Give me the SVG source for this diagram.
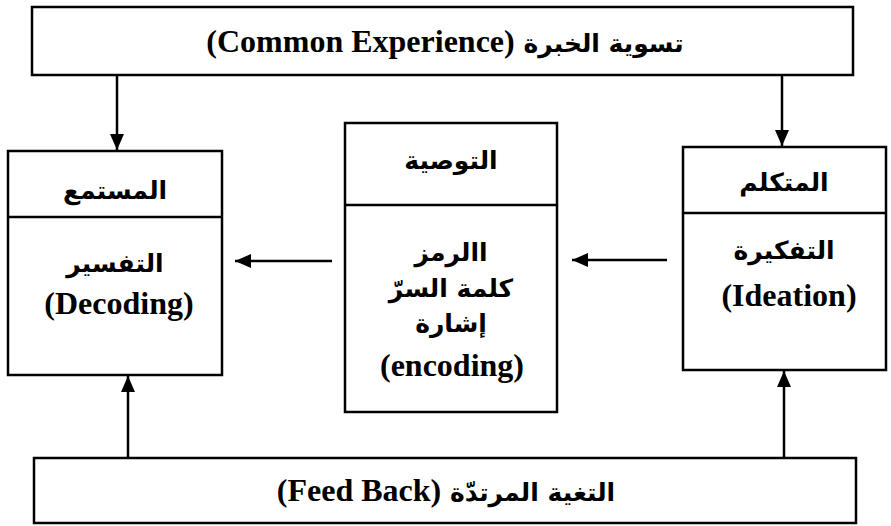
<svg xmlns="http://www.w3.org/2000/svg" width="891" height="526" viewBox="0 0 891 526">
<style>
.box{fill:#fff;stroke:#000;stroke-width:2.5}
.div{stroke:#000;stroke-width:2.5}
.t{font-family:"Liberation Serif","DejaVu Sans",serif;font-weight:bold;font-size:32px;text-anchor:middle;fill:#000}
.ar{font-family:"DejaVu Sans","Liberation Serif",sans-serif;font-weight:bold;font-size:25px;text-anchor:middle;fill:#000}
.con line{stroke:#000;stroke-width:2.5;marker-end:url(#ah)}
</style>
<defs>
<marker id="ah" markerUnits="userSpaceOnUse" markerWidth="18" markerHeight="16" refX="16" refY="7" orient="auto">
<path d="M0,0 L16,7 L0,14 Z" fill="#000"/>
</marker>
</defs>
<rect width="891" height="526" fill="#fff"/>
<g id="common-experience">
<rect class="box" x="32" y="7" width="821" height="68"/>
<text class="t" x="445" y="52" font-size="29"><tspan>(Common Experience)</tspan><tspan class="ar" font-family="DejaVu Sans" font-size="26"> تسوية الخبرة</tspan></text>
</g>
<g id="listener">
<rect class="box" x="8" y="151" width="214" height="224"/>
<line class="div" x1="8" y1="217" x2="222" y2="217"/>
<text class="ar" x="115" y="199">المستمع</text>
<text class="ar" x="115" y="272">التفسير</text>
<text class="t" x="119" y="314">(Decoding)</text>
</g>
<g id="encoding">
<rect class="box" x="345" y="123" width="212" height="289"/>
<line class="div" x1="345" y1="205" x2="557" y2="205"/>
<text class="ar" x="451" y="169">التوصية</text>
<text class="ar" x="451" y="261">االرمز</text>
<text class="ar" x="451" y="297">كلمة السرّ</text>
<text class="ar" x="451" y="332">إشارة</text>
<text class="t" x="452" y="376">(encoding)</text>
</g>
<g id="speaker">
<rect class="box" x="683" y="147" width="203" height="223"/>
<line class="div" x1="683" y1="213" x2="886" y2="213"/>
<text class="ar" x="784" y="191">المتكلم</text>
<text class="ar" x="784" y="259">التفكيرة</text>
<text class="t" x="789" y="306">(Ideation)</text>
</g>
<g id="feedback">
<rect class="box" x="34" y="458" width="822" height="65"/>
<text class="t" x="446" y="501" font-size="31"><tspan>(Feed Back)</tspan><tspan class="ar" font-family="DejaVu Sans" font-size="27"> التغية المرتدّة</tspan></text>
</g>
<g id="connectors" class="con">
<line x1="117" y1="76" x2="117" y2="150"/>
<line x1="782" y1="74" x2="782" y2="146"/>
<line x1="332" y1="261" x2="235" y2="261"/>
<line x1="667" y1="260" x2="572" y2="260"/>
<line x1="128" y1="458" x2="128" y2="376"/>
<line x1="784" y1="457" x2="784" y2="371"/>
</g>
</svg>
